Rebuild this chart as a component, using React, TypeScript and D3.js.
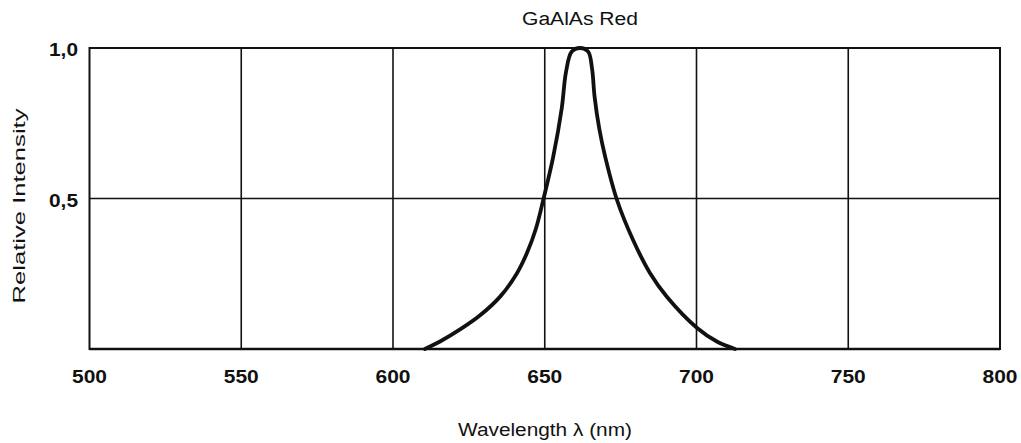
import React from "react";
import * as d3 from "d3";

const xTicks = [500, 550, 600, 650, 700, 750, 800];
const yTicks = [0.5, 1.0];
const yTickLabels = ["0,5", "1,0"];
const wavelengths = [610.5, 615.5, 622.1, 628.7, 635.3, 640.8, 644.1, 647.0, 649.5, 652.8, 655.6, 657.0, 658.9, 661.6, 664.3, 665.6, 666.4, 668.0, 670.0, 673.8, 679.1, 684.7, 690.3, 700.2, 706.7, 712.7];
const intensities = [0, 0.025, 0.065, 0.112, 0.174, 0.251, 0.318, 0.397, 0.495, 0.639, 0.8, 0.92, 0.988, 1.0, 0.988, 0.93, 0.84, 0.73, 0.635, 0.495, 0.362, 0.252, 0.173, 0.07, 0.025, 0];
const title = "GaAlAs Red";
const xTitle = "Wavelength λ (nm)";
const yTitle = "Relative Intensity";

const W = 1021;
const H = 443;
const left = 89.5;
const right = 1000;
const top = 48;
const bottom = 349;
const font = "'Liberation Sans', Arial, Helvetica, sans-serif";

export default function App() {
  const x = d3.scaleLinear().domain([500, 800]).range([left, right]);
  const y = d3.scaleLinear().domain([0, 1]).range([bottom, top]);
  const pts: [number, number][] = wavelengths.map((w, i) => [w, intensities[i]]);
  const line = d3
    .line<[number, number]>()
    .x((d) => x(d[0]))
    .y((d) => y(d[1]))
    .curve(d3.curveCatmullRom.alpha(0.5));

  return (
    <svg
      width={W}
      height={H}
      style={{ position: "absolute", left: 0, top: 0, background: "#fff" }}
    >
      <rect x={0} y={0} width={W} height={H} fill="#fff" />
      {xTicks.slice(1, -1).map((t) => (
        <line key={"gx" + t} x1={x(t)} x2={x(t)} y1={top} y2={bottom} stroke="#111" strokeWidth={1.6} />
      ))}
      {yTicks.filter((t) => t < 1).map((t) => (
        <line key={"gy" + t} x1={left} x2={right} y1={y(t)} y2={y(t)} stroke="#111" strokeWidth={1.6} />
      ))}
      <rect x={left} y={top} width={right - left} height={bottom - top} fill="none" stroke="#111" strokeWidth={2} />
      <line x1={left} x2={right} y1={bottom} y2={bottom} stroke="#111" strokeWidth={2.4} />
      <path d={line(pts) || ""} fill="none" stroke="#111" strokeWidth={3.8} strokeLinecap="round" strokeLinejoin="round" />
      {xTicks.map((t) => (
        <text
          key={"xl" + t}
          x={x(t)}
          y={383}
          textAnchor="middle"
          fontFamily={font}
          fontWeight="bold"
          fontSize={19}
          textLength={35}
          lengthAdjust="spacingAndGlyphs"
          fill="#111"
        >
          {t}
        </text>
      ))}
      {yTicks.map((t, i) => (
        <text
          key={"yl" + t}
          x={78}
          y={y(t) + 8}
          textAnchor="end"
          fontFamily={font}
          fontWeight="bold"
          fontSize={19}
          textLength={29}
          lengthAdjust="spacingAndGlyphs"
          fill="#111"
        >
          {yTickLabels[i]}
        </text>
      ))}
      <text x={580} y={25} textAnchor="middle" fontFamily={font} fontSize={18} textLength={116} lengthAdjust="spacingAndGlyphs" fill="#111">
        {title}
      </text>
      <text x={545} y={436} textAnchor="middle" fontFamily={font} fontSize={18} textLength={174} lengthAdjust="spacingAndGlyphs" fill="#111">
        {xTitle}
      </text>
      <text
        transform={`translate(25, 206) rotate(-90)`}
        textAnchor="middle"
        fontFamily={font}
        fontSize={17}
        textLength={195}
        lengthAdjust="spacingAndGlyphs"
        fill="#111"
      >
        {yTitle}
      </text>
    </svg>
  );
}
